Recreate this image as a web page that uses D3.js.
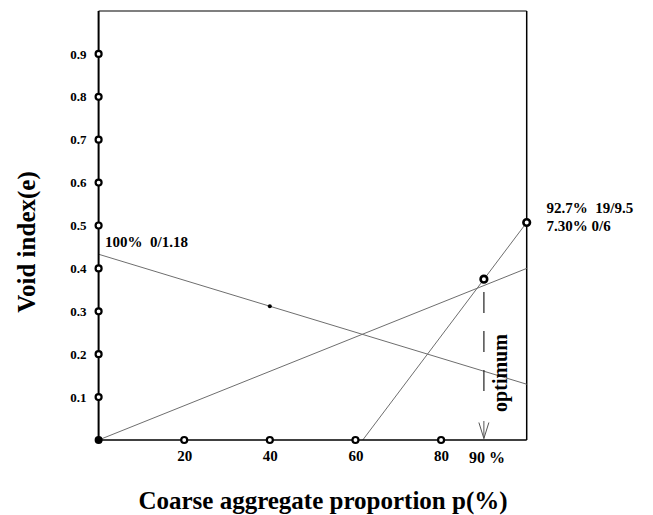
<!DOCTYPE html>
<html><head><meta charset="utf-8">
<script src="https://cdn.jsdelivr.net/npm/d3@7"></script>
<style>
html,body{margin:0;padding:0;background:#fff;}
svg{display:block;}
text{font-family:"Liberation Serif","Times New Roman",serif;font-weight:bold;fill:#000;}
</style></head>
<body>
<script>
// ---- data ----
const xTicks = [20, 40, 60, 80];
const yTicks = [0.1, 0.2, 0.3, 0.4, 0.5, 0.6, 0.7, 0.8, 0.9];
const lineFine = [[0, 0.433], [100, 0.13]];     // 100% 0/1.18
const lineMix = [[0, 0], [100, 0.40]];
const lineCoarse = [[61.7, 0], [100, 0.507]];   // 92.7% 19/9.5 + 7.30% 0/6
const midPoint = [40, 0.312];
const optimumPoint = [90, 0.375];
const endPoint = [100, 0.507];
const optimumX = 90;
const labelFine = "100%  0/1.18";
const labelCoarse = ["92.7%  19/9.5", "7.30% 0/6"];

const W = 653, H = 515;
const svg = d3.select("body").append("svg").attr("width", W).attr("height", H);
const x = d3.scaleLinear().domain([0, 100]).range([98.6, 526.7]);
const y = d3.scaleLinear().domain([0, 1]).range([440, 11]);

// frame: top & right thin
svg.append("line").attr("x1", x(0)).attr("x2", x(100)).attr("y1", y(1)).attr("y2", y(1))
  .attr("stroke", "#000").attr("stroke-width", 1.2);
svg.append("line").attr("x1", x(100)).attr("x2", x(100)).attr("y1", y(1)).attr("y2", y(0))
  .attr("stroke", "#000").attr("stroke-width", 1.5);

// gray lines
const lg = d3.line().x(d => x(d[0])).y(d => y(d[1]));
[lineFine, lineMix, lineCoarse].forEach(L => {
  svg.append("path").attr("d", lg(L)).attr("fill", "none")
    .attr("stroke", "#6e6e6e").attr("stroke-width", 1);
});

// dashed optimum line
svg.append("line").attr("x1", x(optimumX)).attr("x2", x(optimumX))
  .attr("y1", 292).attr("y2", 400)
  .attr("stroke", "#333").attr("stroke-width", 1.3).attr("stroke-dasharray", "21,18");
// arrow
const ax = x(optimumX);
svg.append("path").attr("d", `M${ax},${421} L${ax},${438.5} M${ax-5},${422.5} L${ax},${438.5} L${ax+5},${422.5}`)
  .attr("fill", "none").attr("stroke", "#555").attr("stroke-width", 1);

// axes (left + bottom)
const xAxis = d3.axisBottom(x).tickValues(xTicks).tickSize(0).tickPadding(10).tickFormat(d3.format("d"));
const gx = svg.append("g").attr("transform", `translate(0,${y(0)})`).call(xAxis);
gx.select(".domain").remove();
gx.selectAll("text").attr("font-size", 15).style("font-family", "Liberation Serif").style("font-weight", "bold").attr("fill", "#000");

const yAxis = d3.axisLeft(y).tickValues(yTicks).tickSize(0).tickPadding(12).tickFormat(d3.format(".1f"));
const gy = svg.append("g").attr("transform", `translate(${x(0)},0)`).call(yAxis);
gy.select(".domain").remove();
gy.selectAll("text").attr("font-size", 13).style("font-family", "Liberation Serif").style("font-weight", "bold").attr("fill", "#000");

svg.append("line").attr("x1", x(0)).attr("x2", x(0)).attr("y1", y(1)).attr("y2", y(0))
  .attr("stroke", "#000").attr("stroke-width", 2);
svg.append("line").attr("x1", x(0)).attr("x2", x(100)).attr("y1", y(0)).attr("y2", y(0))
  .attr("stroke", "#000").attr("stroke-width", 1.6);

// markers on axes
svg.selectAll(".ym").data(yTicks).enter().append("circle")
  .attr("cx", x(0)).attr("cy", d => y(d)).attr("r", 3)
  .attr("fill", "#fff").attr("stroke", "#000").attr("stroke-width", 2.2);
svg.selectAll(".xm").data(xTicks).enter().append("circle")
  .attr("cx", d => x(d)).attr("cy", y(0)).attr("r", 3)
  .attr("fill", "#fff").attr("stroke", "#000").attr("stroke-width", 2.2);
svg.append("circle").attr("cx", x(0)).attr("cy", y(0)).attr("r", 4).attr("fill", "#000");

// points
svg.append("circle").attr("cx", x(midPoint[0])).attr("cy", y(midPoint[1])).attr("r", 2).attr("fill", "#000");
[optimumPoint, endPoint].forEach(p => {
  svg.append("circle").attr("cx", x(p[0])).attr("cy", y(p[1])).attr("r", 3.3)
    .attr("fill", "#fff").attr("stroke", "#000").attr("stroke-width", 2.6);
});

// labels
svg.append("text").attr("x", 105).attr("y", 246.5).attr("font-size", 15)
  .attr("xml:space", "preserve").style("white-space", "pre").text(labelFine);
labelCoarse.forEach((t, i) => {
  svg.append("text").attr("x", 546.5).attr("y", 213 + i * 17.5).attr("font-size", 15)
    .style("white-space", "pre").text(t);
});
svg.append("text").attr("x", x(optimumX) + 3).attr("y", 463).attr("font-size", 16)
  .attr("text-anchor", "middle").style("white-space", "pre").text("90 %");
svg.append("text").attr("transform", `translate(507,373) rotate(-90)`).attr("font-size", 20)
  .attr("text-anchor", "middle").text("optimum");

// axis titles
svg.append("text").attr("x", 323).attr("y", 509).attr("font-size", 25)
  .attr("text-anchor", "middle").text("Coarse aggregate proportion p(%)");
svg.append("text").attr("transform", `translate(35,242) rotate(-90)`).attr("font-size", 25)
  .attr("text-anchor", "middle").text("Void index(e)");
</script>
</body></html>
